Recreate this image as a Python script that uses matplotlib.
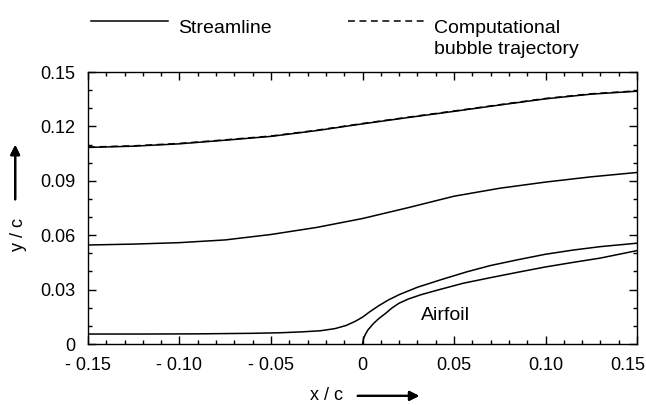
import matplotlib.pyplot as plt
import matplotlib.transforms as mtransforms
from matplotlib.lines import Line2D
from matplotlib.ticker import MultipleLocator

plt.rcParams['font.family'] = ['Liberation Sans', 'DejaVu Sans']

# streamlines (x/c, y/c)
x_upper = [-0.15, -0.125, -0.10, -0.075, -0.05, -0.025, 0.0, 0.025, 0.05, 0.075, 0.10, 0.125, 0.15]
y_upper = [0.1084, 0.1091, 0.1104, 0.1124, 0.1145, 0.1177, 0.1214, 0.1249, 0.1283, 0.1318, 0.1352, 0.1378, 0.1394]

x_middle = [-0.15, -0.125, -0.10, -0.075, -0.05, -0.025, 0.0, 0.025, 0.05, 0.075, 0.10, 0.125, 0.15]
y_middle = [0.0546, 0.0551, 0.0559, 0.0574, 0.0604, 0.0643, 0.0692, 0.0752, 0.0815, 0.0859, 0.0893, 0.0922, 0.0946]

x_lower = [-0.15, -0.12, -0.09, -0.06, -0.045, -0.033, -0.023, -0.015, -0.009, -0.004, 0.0,
           0.004, 0.009, 0.014, 0.020, 0.030, 0.043, 0.057, 0.070, 0.085, 0.100, 0.115, 0.130, 0.150]
y_lower = [0.0055, 0.0055, 0.0056, 0.0059, 0.0062, 0.0067, 0.0073, 0.0085, 0.0102, 0.0125, 0.0148,
           0.0178, 0.0212, 0.0242, 0.0272, 0.0313, 0.0355, 0.0398, 0.0433, 0.0465, 0.0495, 0.0518, 0.0537, 0.0556]

# computed bubble path
x_bubble = [-0.15, -0.125, -0.10, -0.075, -0.05, -0.025, 0.0, 0.025, 0.05, 0.075, 0.10, 0.125, 0.15]
y_bubble = [0.1086, 0.1093, 0.1106, 0.1126, 0.1147, 0.1179, 0.1216, 0.1251, 0.1285, 0.1320, 0.1354, 0.1380, 0.1396]

# airfoil upper surface near the leading edge
x_foil = [0.0, 0.0005, 0.0015, 0.003, 0.006, 0.009, 0.0125, 0.016, 0.020, 0.025, 0.032,
          0.042, 0.055, 0.070, 0.085, 0.100, 0.115, 0.130, 0.150]
y_foil = [0.0, 0.0028, 0.0052, 0.0078, 0.0113, 0.0141, 0.0168, 0.0198, 0.0225, 0.0248, 0.0272,
          0.0300, 0.0335, 0.0366, 0.0396, 0.0425, 0.0450, 0.0474, 0.0515]

xticks = [-0.15, -0.10, -0.05, 0.0, 0.05, 0.10, 0.15]
xtick_labels = ['- 0.15', '- 0.10', '- 0.05', '0', '0.05', '0.10', '0.15']
yticks = [0.0, 0.03, 0.06, 0.09, 0.12, 0.15]
ytick_labels = ['0', '0.03', '0.06', '0.09', '0.12', '0.15']

fig = plt.figure(figsize=(6.46, 4.05), dpi=100)
ax = fig.add_axes([0.1362, 0.1506, 0.8499, 0.6716])

lw = 1.1
for xs, ys in [(x_upper, y_upper), (x_middle, y_middle), (x_lower, y_lower), (x_foil, y_foil)]:
    ax.plot(xs, ys, color='black', lw=lw)
ax.plot(x_bubble, y_bubble, color='black', lw=lw, dashes=(4.5, 3))

ax.text(0.032, 0.0155, 'Airfoil', fontsize=14, ha='left', va='center')

ax.set_xlim(-0.15, 0.15)
ax.set_ylim(0, 0.15)
ax.set_xticks(xticks)
ax.set_xticklabels(xtick_labels)
ax.set_yticks(yticks)
ax.set_yticklabels(ytick_labels)
ax.xaxis.set_minor_locator(MultipleLocator(0.01))
ax.yaxis.set_minor_locator(MultipleLocator(0.01))
ax.tick_params(which='both', direction='in', top=True, right=True, width=1.0)
ax.tick_params(which='major', length=6, labelsize=13, pad=9)
ax.tick_params(which='minor', length=3)
for s in ax.spines.values():
    s.set_linewidth(1.0)

# pull the last x label back inside the figure edge
last = ax.get_xticklabels()[-1]
last.set_transform(last.get_transform() +
                   mtransforms.ScaledTranslation(-7 / 72, 0, fig.dpi_scale_trans))

# legend above the frame
fig.add_artist(Line2D([0.141, 0.260], [0.947, 0.947], color='black', lw=lw))
fig.text(0.2755, 0.9185, 'Streamline', fontsize=14, va='baseline')
fig.add_artist(Line2D([0.5387, 0.661], [0.948, 0.948], color='black', lw=lw, dashes=(4.5, 3)))
fig.text(0.672, 0.9185, 'Computational', fontsize=14, va='baseline')
fig.text(0.672, 0.8667, 'bubble trajectory', fontsize=14, va='baseline')

# axis labels with arrows
arrow = dict(arrowstyle='-|>', lw=1.6, color='black', mutation_scale=14)
fig.text(0.506, 0.012, 'x / c', fontsize=13, ha='center', va='baseline')
fig.add_artist(plt.annotate('', xy=(0.6533, 0.0225), xytext=(0.5495, 0.0225),
                            xycoords='figure fraction', arrowprops=arrow))
fig.text(0.029, 0.42, 'y / c', fontsize=13, ha='center', va='center', rotation=90)
fig.add_artist(plt.annotate('', xy=(0.0235, 0.649), xytext=(0.0235, 0.501),
                            xycoords='figure fraction', arrowprops=arrow))

fig.savefig('out.png', dpi=100)
